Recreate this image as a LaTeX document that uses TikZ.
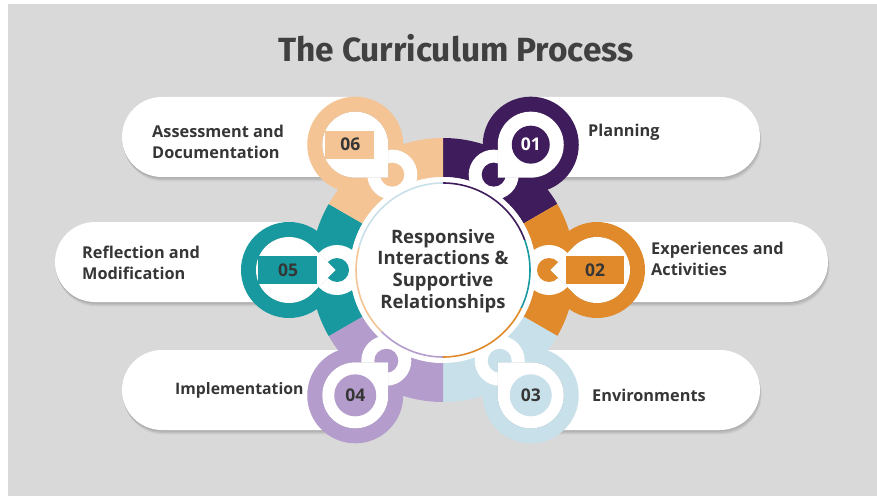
\documentclass[tikz,border=0pt]{standalone}
\usepackage{fontspec}
\setmainfont{Open Sans}
\newfontfamily\titlefont{Fira Sans}
\usetikzlibrary{calc}
\definecolor{bg}{HTML}{D9D9D9}
\definecolor{cA}{HTML}{3F1D5C}
\definecolor{cB}{HTML}{E08A2C}
\definecolor{cC}{HTML}{C8E0EA}
\definecolor{cD}{HTML}{B49DCC}
\definecolor{cE}{HTML}{17999F}
\definecolor{cF}{HTML}{F4C494}
\definecolor{txt}{HTML}{363636}
\definecolor{ttl}{HTML}{404040}
% teardrop: centre, corner direction, radius
\newcommand\tdshape[3]{($(#1)+(#2+45:#3)$) arc[start angle=#2+45, delta angle=270, radius=#3] -- ($(#1)+(#2:{#3*1.41421})$) -- cycle}
% annular sector
\newcommand\sectshape[2]{($(C)+(#1:132)$) arc[start angle=#1, end angle=#2, radius=132] -- ($(C)+(#2:93)$) arc[start angle=#2, end angle=#1, radius=93] -- cycle}
% right pill: x0, xR, yB, yT
\newcommand\rpill[4]{(#1,#3) -- ({#2-40},#3) arc[start angle=-90, end angle=90, radius=40] -- (#1,#4) -- cycle}
% left pill: x0, xL, yB, yT
\newcommand\lpill[4]{(#1,#3) -- ({#2+40},#3) arc[start angle=270, end angle=90, radius=40] -- (#1,#4) -- cycle}
\tikzset{
  lbl/.style={anchor=west, align=left, text=txt, font=\fontsize{16.3}{21}\selectfont\bfseries, inner sep=0pt},
  num/.style={text=txt, font=\fontsize{17.5}{20}\selectfont\bfseries, inner sep=0pt},
  tdshadow/.style={fill=black, opacity=0.28},
}
\begin{document}
\begin{tikzpicture}[x=1pt,y=1pt]
\useasboundingbox (0,0) rectangle (877,496);
\fill[white] (0,0) rectangle (877,496);
\fill[bg] (8,0) rectangle (877,492);
\node[text=ttl, font=\titlefont\fontsize{33.5}{40}\selectfont\bfseries] (title) at (456,448) {The Curriculum Process};

\coordinate (C) at (443,226);
% disc centres
\coordinate (P1) at ($(C)+(55:153)$);
\coordinate (P2) at ($(C)+(0:154)$);
\coordinate (P3) at ($(C)+(-55:153)$);
\coordinate (P4) at ($(C)+(-125:153)$);
\coordinate (P5) at ($(C)+(180:154)$);
\coordinate (P6) at ($(C)+(125:153)$);
% link centres
\coordinate (L1) at ($(C)+(62:108)$);
\coordinate (L2) at ($(C)+(0:106)$);
\coordinate (L3) at ($(C)+(-58:107)$);
\coordinate (L4) at ($(C)+(-122:107)$);
\coordinate (L5) at ($(C)+(180:106)$);
\coordinate (L6) at ($(C)+(118:108)$);

% pills
\foreach \dx/\dy/\op in {0/-1.5/0.07,1/-3/0.08,1.5/-4.5/0.05}{
\begin{scope}[shift={(\dx,\dy)}]
\fill[black,opacity=\op] \rpill{531}{760}{319}{399};
\fill[black,opacity=\op] \rpill{597}{828}{194}{274};
\fill[black,opacity=\op] \rpill{531}{760}{66}{146};
\fill[black,opacity=\op] \lpill{355}{122}{66}{146};
\fill[black,opacity=\op] \lpill{289}{55}{194}{274};
\fill[black,opacity=\op] \lpill{355}{122}{319}{399};
\end{scope}}
\fill[white] \rpill{531}{760}{319}{399};
\fill[white] \rpill{597}{828}{194}{274};
\fill[white] \rpill{531}{760}{66}{146};
\fill[white] \lpill{355}{122}{66}{146};
\fill[white] \lpill{289}{55}{194}{274};
\fill[white] \lpill{355}{122}{319}{399};

% sectors
\fill[cA] \sectshape{30}{90};
\fill[cB] \sectshape{-30}{30};
\fill[cC] \sectshape{-90}{-30};
\fill[cD] \sectshape{-150}{-90};
\fill[cE] \sectshape{150}{210};
\fill[cF] \sectshape{90}{150};

% big discs
\fill[cA] (P1) circle[radius=48];
\fill[cB] (P2) circle[radius=48];
\fill[cC] (P3) circle[radius=48];
\fill[cD] (P4) circle[radius=48];
\fill[cE] (P5) circle[radius=48];
\fill[cF] (P6) circle[radius=48];

% link rings
\foreach \L/\c in {L1/cA,L2/cB,L3/cC,L4/cD,L5/cE,L6/cF}{
  \fill[white] (\L) circle[radius=25];
  \fill[\c] (\L) circle[radius=12];
}

% teardrops
\foreach \P/\d in {P1/225,P2/180,P3/135,P4/45,P5/0,P6/315}{
  \fill[tdshadow] [shift={(1.5,-2.5)}] \tdshape{\P}{\d}{33};
  \fill[white] \tdshape{\P}{\d}{33};
}

% number markers
\fill[cA] (P1) circle[radius=19];
\node[num, text=white] (n1) at (P1) {01};
\fill[cB] ($(P2)+(-31,-14)$) rectangle ($(P2)+(27,14)$);
\node[num] (n2) at ($(P2)+(-2,0)$) {02};
\fill[cC] (P3) circle[radius=21];
\node[num] (n3) at (P3) {03};
\fill[cD] (P4) circle[radius=21];
\node[num] (n4) at (P4) {04};
\fill[cE] ($(P5)+(-31,-14)$) rectangle ($(P5)+(28,14)$);
\node[num] (n5) at ($(P5)+(-1,0)$) {05};
\fill[cF] ($(P6)+(-30,-14)$) rectangle ($(P6)+(19,14)$);
\node[num] (n6) at ($(P6)+(-5,0)$) {06};

% centre
\fill[white] (C) circle[radius=93];
\begin{scope}[line width=1.6pt]
\draw[cA] ($(C)+(90:87)$) arc[start angle=90, end angle=20, radius=87];
\draw[cE] ($(C)+(20:87)$) arc[start angle=20, end angle=-26, radius=87];
\draw[cB] ($(C)+(-26:87)$) arc[start angle=-26, end angle=-90, radius=87];
\draw[cC] ($(C)+(90:87)$) arc[start angle=90, end angle=165, radius=87];
\draw[cF] ($(C)+(165:87)$) arc[start angle=165, end angle=225, radius=87];
\draw[cD] ($(C)+(225:87)$) arc[start angle=225, end angle=270, radius=87];
\end{scope}
\node[align=center, text=txt, font=\fontsize{18.5}{21.7}\selectfont\bfseries] (core) at ($(C)+(0,-1)$) {Responsive\\Interactions \&\\Supportive\\Relationships};

% labels
\node[lbl] (t1) at (588,364) {Planning};
\node[lbl] (t2) at (651,237) {Experiences and\\Activities};
\node[lbl] (t3) at (592,101) {Environments};
\node[lbl, font=\fontsize{15.8}{21}\selectfont\bfseries] (t4) at (175,106) {Implementation};
\node[lbl] (t5) at (82,233) {Reflection and\\Modification};
\node[lbl] (t6) at (152,354.5) {Assessment and\\Documentation};
\end{tikzpicture}
\end{document}
